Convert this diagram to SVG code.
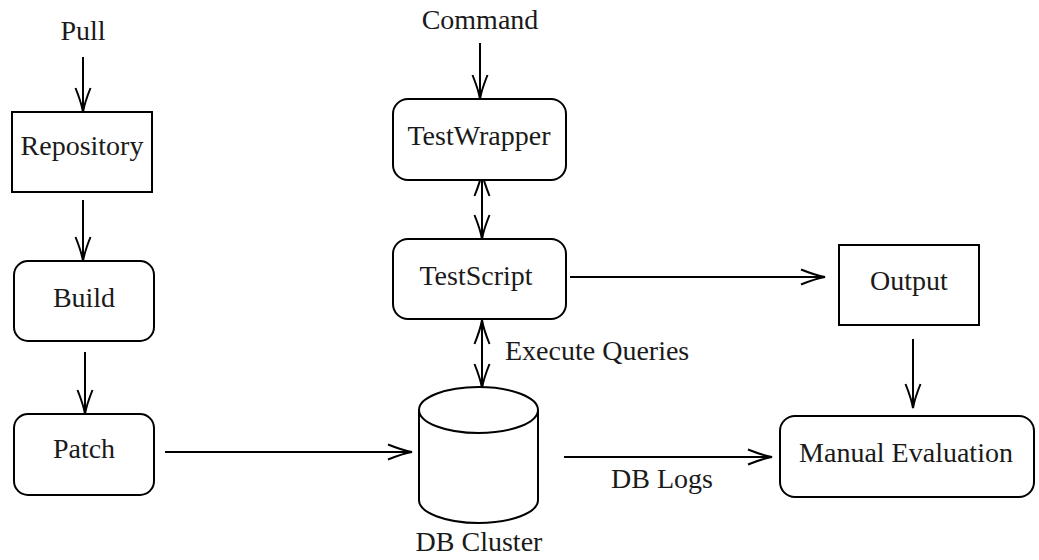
<svg xmlns="http://www.w3.org/2000/svg" width="1039" height="560" viewBox="0 0 1039 560">
<style>
  .box { fill: #ffffff; stroke: #000000; stroke-width: 2; }
  .lbl { font-family: 'Liberation Serif', 'DejaVu Serif', serif; font-size: 28px; fill: #1a1a1a; text-anchor: middle; }
  .edge { fill: none; stroke: #000000; stroke-width: 2; }
  .arr { marker-end: url(#head); }
  .dbl { marker-start: url(#head); marker-end: url(#head); }
</style>
<defs>
  <marker id="head" markerUnits="userSpaceOnUse" viewBox="-27 -10 29 20" markerWidth="29" markerHeight="20" refX="0" refY="0" orient="auto-start-reverse">
    <path d="M -24,-7.5 C -14,-3.5 -6,-1 0,0 C -6,1 -14,3.5 -24,7.5" fill="none" stroke="#000000" stroke-width="2"/>
  </marker>
</defs>
<rect width="1039" height="560" fill="#ffffff"/>

<g id="connectors">
  <path class="edge arr" d="M 83,57 L 83,112"/>
  <path class="edge arr" d="M 83,200 L 83,261"/>
  <path class="edge arr" d="M 85,352 L 85,414"/>
  <path class="edge arr" d="M 165,452 L 412,452"/>
  <path class="edge arr" d="M 480,43 L 480,99"/>
  <path class="edge dbl" d="M 482,172 L 482,239"/>
  <path class="edge dbl" d="M 482,320 L 482,388"/>
  <path class="edge arr" d="M 570,277 L 825,277"/>
  <path class="edge arr" d="M 913,339 L 913,408"/>
  <path class="edge arr" d="M 564,457 L 772,457"/>
  <text class="lbl" x="505" y="360" font-family="Liberation Serif, serif" style="text-anchor:start">Execute Queries</text>
  <text class="lbl" x="662" y="488" font-family="Liberation Serif, serif">DB Logs</text>
</g>

<g id="pull"><text class="lbl" x="83" y="40" font-family="Liberation Serif, serif">Pull</text></g>
<g id="command"><text class="lbl" x="480" y="29" font-family="Liberation Serif, serif">Command</text></g>

<g id="repository">
  <rect class="box" x="12" y="112" width="140" height="80"/>
  <text class="lbl" x="82" y="155" font-family="Liberation Serif, serif">Repository</text>
</g>
<g id="build">
  <rect class="box" x="14" y="261" width="140" height="80" rx="14"/>
  <text class="lbl" x="84" y="307" font-family="Liberation Serif, serif">Build</text>
</g>
<g id="patch">
  <rect class="box" x="14" y="414" width="140" height="81" rx="14"/>
  <text class="lbl" x="84" y="458" font-family="Liberation Serif, serif">Patch</text>
</g>
<g id="testwrapper">
  <rect class="box" x="393" y="99" width="173" height="81" rx="15"/>
  <text class="lbl" x="479" y="145" font-family="Liberation Serif, serif">TestWrapper</text>
</g>
<g id="testscript">
  <rect class="box" x="393" y="239" width="173" height="80" rx="15"/>
  <text class="lbl" x="476" y="285" font-family="Liberation Serif, serif">TestScript</text>
</g>
<g id="dbcluster">
  <path class="box" d="M 419,410 L 419,500 A 59.5,23 0 0 0 538,500 L 538,410 A 59.5,23 0 0 0 419,410 Z"/>
  <path class="edge" d="M 419,410 A 59.5,23 0 0 0 538,410"/>
  <text class="lbl" x="479" y="551" font-family="Liberation Serif, serif">DB Cluster</text>
</g>
<g id="output">
  <rect class="box" x="839" y="245" width="140" height="80"/>
  <text class="lbl" x="909" y="290" font-family="Liberation Serif, serif">Output</text>
</g>
<g id="manualevaluation">
  <rect class="box" x="780" y="416" width="254" height="81" rx="15"/>
  <text class="lbl" x="906" y="462" font-family="Liberation Serif, serif">Manual Evaluation</text>
</g>
</svg>
